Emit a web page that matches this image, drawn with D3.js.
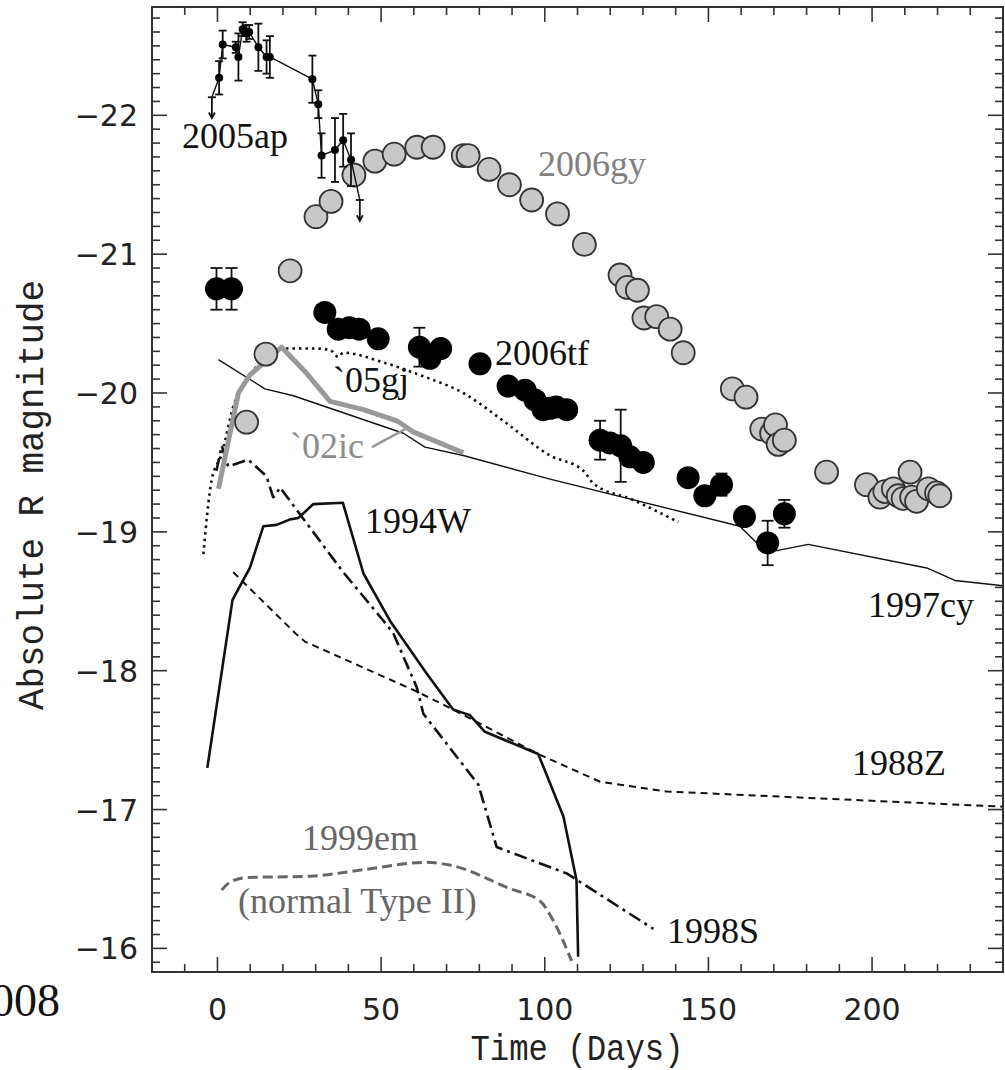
<!DOCTYPE html>
<html>
<head>
<meta charset="utf-8">
<script src="https://cdn.jsdelivr.net/npm/d3@7"></script>
<style>
  body { margin: 0; background: #fff; }
  svg { display: block; }
</style>
</head>
<body>
<div id="chart"></div>
<script>
// light curves: [day, magnitude]
var sn2005ap_day = [0.5, 1.6, 5.6, 6.4, 7.7, 8.9, 9.7, 12.5, 15.0, 16.0, 29.0, 30.8, 31.8, 35.9, 38.4, 40.8];
var sn2005ap_mag = [-22.27, -22.51, -22.49, -22.42, -22.62, -22.59, -22.60, -22.49, -22.42, -22.42, -22.26, -22.08, -21.71, -21.75, -21.82, -21.68];
var sn2005ap_err = [0.12, 0.10, 0.04, 0.17, 0.05, 0.06, 0.05, 0.17, 0.12, 0.15, 0.17, 0.10, 0.16, 0.23, 0.19, 0.19];
var sn2005ap_lim = [[-1.7, -22.13], [43.5, -21.39]];

var sn2006gy = [[8.9, -19.79], [14.8, -20.28], [22.2, -20.88], [30.1, -21.27], [34.7, -21.38], [41.7, -21.57],
  [48.1, -21.67], [54.0, -21.72], [60.9, -21.77], [65.9, -21.77], [75.1, -21.71], [76.6, -21.71], [83.0, -21.61],
  [89.2, -21.50], [96.0, -21.39], [103.9, -21.29], [112.1, -21.07], [123.0, -20.85], [125.2, -20.76], [128.3, -20.74],
  [130.3, -20.54], [134.2, -20.55], [138.3, -20.46], [142.3, -20.29], [157.3, -20.03], [161.5, -19.97], [166.3, -19.74],
  [169.3, -19.71], [170.5, -19.77], [171.3, -19.63], [173.2, -19.66], [186.1, -19.43], [198.3, -19.34], [202.4, -19.25],
  [203.9, -19.29], [206.5, -19.31], [208.0, -19.26], [209.5, -19.24], [211.6, -19.43], [212.1, -19.25], [213.6, -19.22],
  [217.2, -19.31], [219.7, -19.28], [220.7, -19.26]];

var sn2006tf = [[-0.3, -20.75], [4.3, -20.75], [32.8, -20.58], [36.9, -20.46], [40.3, -20.47], [43.3, -20.46], [49.1, -20.39],
  [61.7, -20.33], [64.9, -20.25], [68.2, -20.32], [80.2, -20.21], [88.8, -20.05], [94.0, -20.02], [97.0, -19.95],
  [99.5, -19.88], [101.6, -19.89], [103.5, -19.90], [106.7, -19.88], [116.9, -19.66], [119.9, -19.64], [123.2, -19.62],
  [126.0, -19.54], [130.1, -19.50], [143.8, -19.39], [148.9, -19.26], [154.0, -19.34], [161.0, -19.11], [168.1, -18.92],
  [173.2, -19.13]];
var sn2006tf_err = [0.15, 0.15, 0, 0, 0, 0, 0, 0.14, 0, 0, 0, 0, 0, 0, 0, 0, 0, 0, 0.14, 0, 0.26, 0, 0, 0, 0, 0.08, 0, 0.16, 0.10];

var sn1997cy = [[0.3, -20.24], [14.5, -20.03], [23.2, -19.98], [34.4, -19.89], [56.8, -19.71], [63.4, -19.61], [75.1, -19.55],
  [101.6, -19.38], [159.6, -19.04], [167.8, -18.85], [180.5, -18.91], [216.7, -18.74], [225.3, -18.65], [240.6, -18.61]];

var sn2005gj = [[-4.3, -18.84], [-1.8, -19.37], [1.3, -19.56], [4.8, -19.90], [9.9, -20.12], [15.0, -20.27], [20.1, -20.32],
  [30.3, -20.32], [34.4, -20.31], [36.9, -20.26], [38.4, -20.29], [50.7, -20.22], [62.9, -20.12], [75.1, -20.00],
  [87.3, -19.80], [101.6, -19.55], [111.8, -19.44], [114.8, -19.35], [127.0, -19.23], [140.8, -19.07]];

var sn2002ic = [[0.3, -19.31], [6.4, -20.00], [9.9, -20.13], [19.6, -20.33], [27.3, -20.14], [34.4, -19.94], [44.6, -19.88],
  [54.8, -19.80], [59.8, -19.72], [75.1, -19.57]];

var sn1998S = [[-0.3, -19.44], [1.3, -19.62], [3.3, -19.47], [9.4, -19.52], [15.0, -19.40], [17.0, -19.25], [17.6, -19.26],
  [19.1, -19.32], [38.4, -18.71], [50.7, -18.36], [53.7, -18.27], [60.9, -17.88], [62.9, -17.69], [79.7, -17.18],
  [85.3, -16.73], [106.7, -16.54], [133.2, -16.14]];

var sn1994W = [[-3.1, -17.30], [4.6, -18.51], [9.9, -18.74], [14.0, -19.04], [18.1, -19.05], [22.2, -19.09], [24.7, -19.10],
  [29.3, -19.20], [38.3, -19.21], [44.6, -18.70], [52.7, -18.36], [63.9, -17.98], [72.0, -17.72], [77.1, -17.68],
  [81.7, -17.56], [98.0, -17.40], [105.7, -16.95], [109.7, -16.49], [110.2, -15.94]];

var sn1988Z = [[4.8, -18.71], [24.2, -18.26], [26.7, -18.21], [60.9, -17.85], [72.0, -17.72], [98.0, -17.40], [116.9, -17.20],
  [137.2, -17.13], [240.6, -17.02]];

var sn1999em = [[1.3, -16.42], [4.0, -16.48], [9.0, -16.51], [28.3, -16.52], [45.6, -16.57], [63.9, -16.62], [71.0, -16.60],
  [89.4, -16.43], [98.6, -16.34], [102.6, -16.20], [108.2, -15.91]];

var xTicks = [0, 50, 100, 150, 200];
var yTicks = [-22, -21, -20, -19, -18, -17, -16];

var svgWidth = 1005, svgHeight = 1070;
var margin = { top: 7, right: 2, bottom: 98, left: 152 },
    width = svgWidth - margin.left - margin.right,
    height = svgHeight - margin.top - margin.bottom;

var svg = d3.select("#chart").append("svg")
    .attr("width", svgWidth)
    .attr("height", svgHeight);

var g = svg.append("g")
    .attr("transform", `translate(${margin.left}, ${margin.top})`);

var x = d3.scaleLinear().domain([-20, 240]).range([0, width]);
var y = d3.scaleLinear().domain([-22.78, -15.83]).range([0, height]);

var clip = g.append("clipPath").attr("id", "clip")
  .append("rect").attr("width", width).attr("height", height);
var plot = g.append("g").attr("clip-path", "url(#clip)");

var line = d3.line().x(d => x(d[0])).y(d => y(d[1]));
var smooth = d3.line().x(d => x(d[0])).y(d => y(d[1])).curve(d3.curveMonotoneX);

// lines
function curve(data, color, w, dash, gen) {
  plot.append("path").datum(data)
    .attr("d", gen || line)
    .attr("fill", "none")
    .attr("stroke", color)
    .attr("stroke-width", w)
    .attr("stroke-linejoin", "round")
    .attr("stroke-dasharray", dash || null);
}
curve(sn1997cy, "#111", 1.4);
curve(sn1988Z, "#111", 2, "7,5");
curve(sn1999em, "#666", 3, "10,5", smooth);
curve(sn1998S, "#111", 2.6, "13,5,3,5");
curve(sn1994W, "#111", 2.6);
curve(sn2005gj, "#111", 2.6, "2.5,4", smooth);
curve(sn2002ic, "#999", 5);

// 2006gy grey circles
plot.append("g").selectAll("circle")
  .data(sn2006gy).enter().append("circle")
    .attr("cx", d => x(d[0]))
    .attr("cy", d => y(d[1]))
    .attr("r", 11.5)
    .attr("fill", "#c8c8c8")
    .attr("stroke", "#333")
    .attr("stroke-width", 1.8);

// 2006tf black dots with some error bars
var tf = sn2006tf.map((d, i) => ({ t: d[0], m: d[1], e: sn2006tf_err[i] }));
var tfErr = plot.append("g").attr("stroke", "#111").attr("stroke-width", 1.8);
tf.filter(d => d.e > 0).forEach(function(d) {
  tfErr.append("line").attr("x1", x(d.t)).attr("x2", x(d.t)).attr("y1", y(d.m - d.e)).attr("y2", y(d.m + d.e));
  [d.m - d.e, d.m + d.e].forEach(v =>
    tfErr.append("line").attr("x1", x(d.t) - 6).attr("x2", x(d.t) + 6).attr("y1", y(v)).attr("y2", y(v)));
});
plot.append("g").selectAll("circle")
  .data(tf).enter().append("circle")
    .attr("cx", d => x(d.t))
    .attr("cy", d => y(d.m))
    .attr("r", 11.5)
    .attr("fill", "#000");

// 2005ap small points, error bars, upper limits
var ap = sn2005ap_day.map((t, i) => [t, sn2005ap_mag[i], sn2005ap_err[i]]);
var apAll = [sn2005ap_lim[0]].concat(ap.map(d => [d[0], d[1]]), [sn2005ap_lim[1]]);
curve(apAll, "#111", 1.4);
var apG = plot.append("g").attr("stroke", "#111").attr("stroke-width", 1.8);
ap.forEach(function(d) {
  apG.append("line").attr("x1", x(d[0])).attr("x2", x(d[0])).attr("y1", y(d[1] - d[2])).attr("y2", y(d[1] + d[2]));
  [d[1] - d[2], d[1] + d[2]].forEach(v =>
    apG.append("line").attr("x1", x(d[0]) - 4).attr("x2", x(d[0]) + 4).attr("y1", y(v)).attr("y2", y(v)));
});
sn2005ap_lim.forEach(function(d) {
  apG.append("line").attr("x1", x(d[0]) - 4).attr("x2", x(d[0]) + 4).attr("y1", y(d[1])).attr("y2", y(d[1]));
  apG.append("line").attr("x1", x(d[0])).attr("x2", x(d[0])).attr("y1", y(d[1])).attr("y2", y(d[1] + 0.14));
  apG.append("path").attr("d", `M${x(d[0]) - 3},${y(d[1] + 0.11)}L${x(d[0])},${y(d[1] + 0.15)}L${x(d[0]) + 3},${y(d[1] + 0.11)}`)
    .attr("fill", "none");
});
plot.append("g").selectAll("circle")
  .data(apAll.slice(1, -1)).enter().append("circle")
    .attr("cx", d => x(d[0]))
    .attr("cy", d => y(d[1]))
    .attr("r", 4)
    .attr("fill", "#000");

// leader line for `02ic
g.append("line")
  .attr("x1", x(47.2)).attr("y1", y(-19.61))
  .attr("x2", x(58.2)).attr("y2", y(-19.75))
  .attr("stroke", "#999").attr("stroke-width", 2.5);

// frame and ticks (inward, all four sides)
var axCol = "#333";
g.append("rect").attr("width", width).attr("height", height)
  .attr("fill", "none").attr("stroke", axCol).attr("stroke-width", 2);

var xMinor = d3.range(-10, 240, 10);
var yMinor = d3.range(-22.7, -15.8, 0.1).map(v => +v.toFixed(1));
var tk = g.append("g").attr("stroke", axCol).attr("stroke-width", 1.6);
xMinor.forEach(function(v) {
  var L = (v % 50 === 0) ? 15 : 8;
  tk.append("line").attr("x1", x(v)).attr("x2", x(v)).attr("y1", height).attr("y2", height - L);
  tk.append("line").attr("x1", x(v)).attr("x2", x(v)).attr("y1", 0).attr("y2", L);
});
yMinor.forEach(function(v) {
  var L = (Math.abs(v - Math.round(v)) < 1e-6) ? 15 : 8;
  tk.append("line").attr("x1", 0).attr("x2", L).attr("y1", y(v)).attr("y2", y(v));
  tk.append("line").attr("x1", width).attr("x2", width - L).attr("y1", y(v)).attr("y2", y(v));
});

// tick labels
g.append("g").selectAll("text").data(xTicks).enter().append("text")
  .attr("x", d => x(d)).attr("y", height + 48)
  .attr("text-anchor", "middle")
  .attr("font-family", "DejaVu Sans").attr("font-size", 30).attr("fill", "#222")
  .text(d => d);
g.append("g").selectAll("text").data(yTicks).enter().append("text")
  .attr("x", -14).attr("y", d => y(d) + 11)
  .attr("text-anchor", "end")
  .attr("font-family", "DejaVu Sans").attr("font-size", 30).attr("fill", "#222")
  .text(d => "\u2212" + Math.abs(d));

// axis titles
svg.append("text")
  .attr("x", 577).attr("y", 1060)
  .attr("text-anchor", "middle")
  .attr("font-family", "Liberation Mono").attr("font-size", 36).attr("fill", "#222")
  .attr("textLength", 213).attr("lengthAdjust", "spacingAndGlyphs")
  .text("Time (Days)");
svg.append("text")
  .attr("transform", "translate(43,495) rotate(-90)")
  .attr("text-anchor", "middle")
  .attr("font-family", "Liberation Mono").attr("font-size", 36).attr("fill", "#222")
  .attr("textLength", 430).attr("lengthAdjust", "spacingAndGlyphs")
  .text("Absolute R magnitude");

// object labels
var labels = [
  ["2005ap", 182, 148, "#111"],
  ["2006gy", 538, 176, "#808080"],
  ["2006tf", 495, 365, "#111"],
  ["`05gj", 333, 392, "#111"],
  ["`02ic", 290, 458, "#8c8c8c"],
  ["1994W", 365, 533, "#111"],
  ["1997cy", 868, 617, "#111"],
  ["1988Z", 852, 775, "#111"],
  ["1999em", 302, 850, "#666"],
  ["(normal Type II)", 238, 913, "#666"],
  ["1998S", 667, 943, "#111"]
];
svg.append("g").selectAll("text").data(labels).enter().append("text")
  .attr("x", d => d[1]).attr("y", d => d[2])
  .attr("font-family", "Liberation Serif").attr("font-size", 36)
  .attr("fill", d => d[3])
  .text(d => d[0]);

// partial figure caption at the lower left, cut by the page edge as in the source
svg.append("text")
  .attr("x", 60).attr("y", 1016)
  .attr("text-anchor", "end")
  .attr("font-family", "Liberation Serif").attr("font-size", 46).attr("fill", "#111")
  .text("2008");
</script>
</body>
</html>
